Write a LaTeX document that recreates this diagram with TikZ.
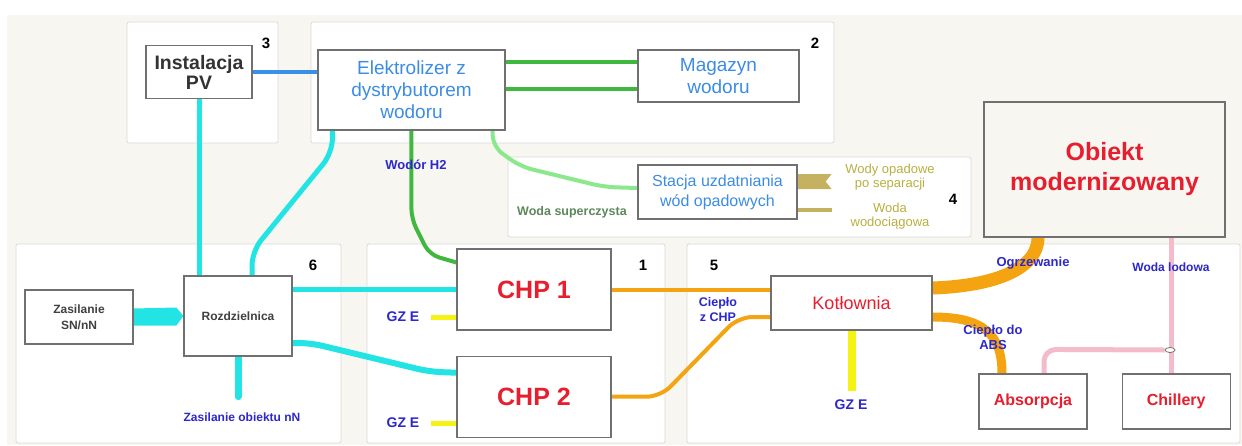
\documentclass[tikz,border=0pt]{standalone}
\usepackage{fontspec}
\setmainfont{Liberation Sans}
\usetikzlibrary{positioning, shapes.geometric, backgrounds}
\definecolor{bgbeige}{RGB}{248,246,241}
\definecolor{panelline}{RGB}{218,218,218}
\definecolor{boxline}{RGB}{112,112,112}
\definecolor{elcyan}{RGB}{34,228,228}
\definecolor{pvblue}{RGB}{58,144,230}
\definecolor{hgreen}{RGB}{64,184,64}
\definecolor{lgreen}{RGB}{140,232,140}
\definecolor{heatorange}{RGB}{244,164,16}
\definecolor{gzyellow}{RGB}{246,242,20}
\definecolor{coldpink}{RGB}{244,188,202}
\definecolor{khaki}{RGB}{196,178,96}
\definecolor{khakitxt}{RGB}{184,176,64}
\definecolor{supgreen}{RGB}{92,136,92}
\definecolor{labblue}{RGB}{44,40,204}
\definecolor{txtblue}{RGB}{60,140,230}
\definecolor{txtred}{RGB}{230,30,46}
\tikzset{
    panel/.style={draw=panelline, fill=white, line width=0.8pt, rounded corners=2pt},
    unit/.style={rectangle, draw=boxline, fill=white, line width=1.2pt, align=center, inner sep=0pt},
    redbig/.style={unit, text=txtred, font=\bfseries\fontsize{25}{30}\selectfont},
    redsmall/.style={unit, text=txtred, font=\bfseries\fontsize{16}{19}\selectfont},
    bluebox/.style={unit, text=txtblue, font=\fontsize{19}{22}\selectfont},
    darkbox/.style={unit, text=black!75, font=\bfseries\fontsize{12}{16}\selectfont},
    lab/.style={text=labblue, font=\bfseries\fontsize{13}{15}\selectfont, align=center, inner sep=0pt},
    num/.style={font=\bfseries\fontsize{15}{15}\selectfont, inner sep=0pt},
    elec/.style={draw=elcyan, line width=5pt},
    pvline/.style={draw=pvblue, line width=4pt},
    hyd/.style={draw=hgreen, line width=4pt},
    lgline/.style={draw=lgreen, line width=4pt},
    heatline/.style={draw=heatorange, line width=4pt},
    gzline/.style={draw=gzyellow, line width=5pt},
    coldline/.style={draw=coldpink, line width=5pt}
}
\begin{document}
\begin{tikzpicture}[x=1pt, y=-1pt]
    \useasboundingbox (0,0) rectangle (1242,445);

    \node (pv) [unit, minimum width=106pt, minimum height=53pt, text=black!80, font=\bfseries\fontsize{19.5}{20}\selectfont] at (199,72) {Instalacja\\PV};
    \node (elektro) [bluebox, minimum width=187pt, minimum height=80pt] at (411.5,90) {Elektrolizer z\\dystrybutorem\\wodoru};
    \node (magazyn) [bluebox, minimum width=161pt, minimum height=52pt] at (718.5,76) {Magazyn\\wodoru};
    \node (stacja) [bluebox, minimum width=159pt, minimum height=54pt, font=\fontsize{16}{20}\selectfont] at (717.5,192) {Stacja uzdatniania\\wód opadowych};
    \node (obiekt) [redbig, fill=bgbeige, minimum width=241pt, minimum height=135pt] at (1104.5,169.5) {Obiekt\\modernizowany};
    \node (zasil) [darkbox, minimum width=108pt, minimum height=54pt] at (79,317) {Zasilanie\\SN/nN};
    \node (rozdz) [darkbox, minimum width=108pt, minimum height=80pt] at (238,316) {Rozdzielnica};
    \node (chp1) [redbig, minimum width=154pt, minimum height=81pt] at (534,289.5) {CHP 1};
    \node (chp2) [redbig, minimum width=154pt, minimum height=81pt, below=25pt of chp1] {CHP 2};
    \node (kotl) [unit, text=txtred, font=\fontsize{18}{20}\selectfont, minimum width=161pt, minimum height=54pt] at (851.5,303) {Kotłownia};
    \node (absorp) [redsmall, minimum width=108pt, minimum height=55pt] at (1033,401.5) {Absorpcja};
    \node (chill) [redsmall, minimum width=108pt, minimum height=55pt, right=34pt of absorp] {Chillery};
    \node (jn) [ellipse, draw=boxline, fill=white, line width=0.8pt, minimum width=10pt, minimum height=5pt, inner sep=0pt] at (1170,350) {};

    \node (lh2) [lab] at (416,165) {Wodór H2};
    \node (lciepchp) [lab, font=\bfseries\fontsize{12.5}{15}\selectfont] at (718,310) {Ciepło\\z CHP};
    \node (logrz) [lab] at (1033,263) {Ogrzewanie};
    \node (labs) [lab] at (993,337) {Ciepło do\\ABS};
    \node (llod) [lab, font=\bfseries\fontsize{12}{14}\selectfont] at (1171,267) {Woda lodowa};
    \node (lnN) [lab, font=\bfseries\fontsize{12}{14}\selectfont] at (242,417) {Zasilanie obiektu nN};
    \node (gze1) [lab, font=\bfseries\fontsize{14}{15}\selectfont] at (403,317) {GZ E};
    \node (gze2) [lab, font=\bfseries\fontsize{14}{15}\selectfont] at (403,423) {GZ E};
    \node (gze3) [lab, font=\bfseries\fontsize{14}{15}\selectfont] at (851,405) {GZ E};
    \node (lsuper) [text=supgreen, font=\bfseries\fontsize{12.5}{14}\selectfont] at (572,212) {Woda superczysta};
    \node (lopad) [text=khakitxt, font=\fontsize{13}{14}\selectfont, align=center] at (890,177) {Wody opadowe\\po separacji};
    \node (lwodoc) [text=khakitxt, font=\fontsize{13}{14}\selectfont, align=center] at (890,216) {Woda\\wodociągowa};

    \node (n3) [num] at (266,43) {3};
    \node (n2) [num] at (815,43) {2};
    \node (n4) [num] at (953,199) {4};
    \node (n6) [num] at (313,265) {6};
    \node (n1) [num] at (643,265) {1};
    \node (n5) [num] at (714,265) {5};

    \begin{scope}[on background layer]
        \fill[bgbeige] (7,15) rectangle (1242,445);
        \draw[panel] (127,22) rectangle (278,143);
        \draw[panel] (311,22) rectangle (834,143);
        \draw[panel] (508,157) rectangle (971,237);
        \draw[panel] (16,244) rectangle (341,443);
        \draw[panel] (367,244) rectangle (665,443);
        \draw[panel] (687,244) rectangle (1240,443);

        \draw[pvline] (pv.east) -- (pv.east -| elektro.west);
        \coordinate (h2a) at ([yshift=14pt]magazyn.west);
        \coordinate (h2b) at ([yshift=-13pt]magazyn.west);
        \draw[hyd] (h2a) -- (h2a -| elektro.east);
        \draw[hyd] (h2b) -- (h2b -| elektro.east);
        \draw[hyd, rounded corners=10pt] ([xshift=94pt]elektro.south west) -- ++(0,88) -- ++(18,36) -- ([yshift=27pt]chp1.west);
        \draw[lgline, rounded corners=12pt] ([xshift=-13pt]elektro.south east) -- ++(0,16) -- ++(28,20) -- ([xshift=-33pt,yshift=5pt]stacja.west) -- ([yshift=4pt]stacja.west);
        \fill[khaki] ([yshift=18pt]stacja.east) -- ++(34,0) -- ++(-6,7.5) -- ++(6,7.5) -- ++(-34,0) -- cycle;
        \draw[khaki, line width=4pt] ([yshift=-18pt]stacja.east) -- ++(34,0);

        \draw[elec] (pv.south) -- (pv.south |- rozdz.north);
        \draw[elec, rounded corners=14pt] ([xshift=15pt]elektro.south west) -- ++(0,22) -- ([xshift=14pt,yshift=24pt]rozdz.north) -- ([xshift=14pt]rozdz.north);
        \draw[elec] (chp1.west) -- (chp1.west -| rozdz.east);
        \draw[elec, line width=6pt, rounded corners=12pt] ([yshift=-27pt]rozdz.east) -- ++(18,0) -- ([xshift=-27pt,yshift=25pt]chp2.west) -- ([yshift=24pt]chp2.west);
        \fill[elcyan] ([yshift=8.5pt]zasil.east) -- ([xshift=-7pt,yshift=8.5pt]rozdz.west) -- (rozdz.west) -- ([xshift=-7pt,yshift=-9.5pt]rozdz.west) -- ([yshift=-8.5pt]zasil.east) -- cycle;
        \draw[elec, line width=7pt, line cap=round] (rozdz.south) -- ++(0,40);

        \draw[gzline] ([yshift=-27.5pt]chp1.west) -- ++(-25,0);
        \draw[gzline] ([yshift=-27pt]chp2.west) -- ++(-25,0);
        \draw[gzline, line width=8pt] (kotl.south) -- ++(0,60);

        \draw[heatline] (chp1.east) -- (chp1.east -| kotl.west);
        \draw[heatline, rounded corners=14pt] (chp2.east) -- ++(49,0) -- ([xshift=-32pt,yshift=-14pt]kotl.west) -- ([yshift=-14pt]kotl.west);
        \draw[heatline, line width=13pt] ([yshift=15pt]kotl.east) .. controls +(60,-2) and +(0,32) .. ([xshift=-66.5pt]obiekt.south);
        \draw[heatline, line width=9pt] ([yshift=-14pt]kotl.east) .. controls +(50,0) and +(0,-40) .. ([xshift=-31pt]absorp.north);

        \coordinate (cold) at ([xshift=-5pt]chill.north);
        \draw[coldline] (cold) -- (cold |- obiekt.south);
        \draw[coldline, rounded corners=12pt] ([xshift=11pt]absorp.north) -- ++(0,-24) -- (jn.west);
    \end{scope}
\end{tikzpicture}
\end{document}
